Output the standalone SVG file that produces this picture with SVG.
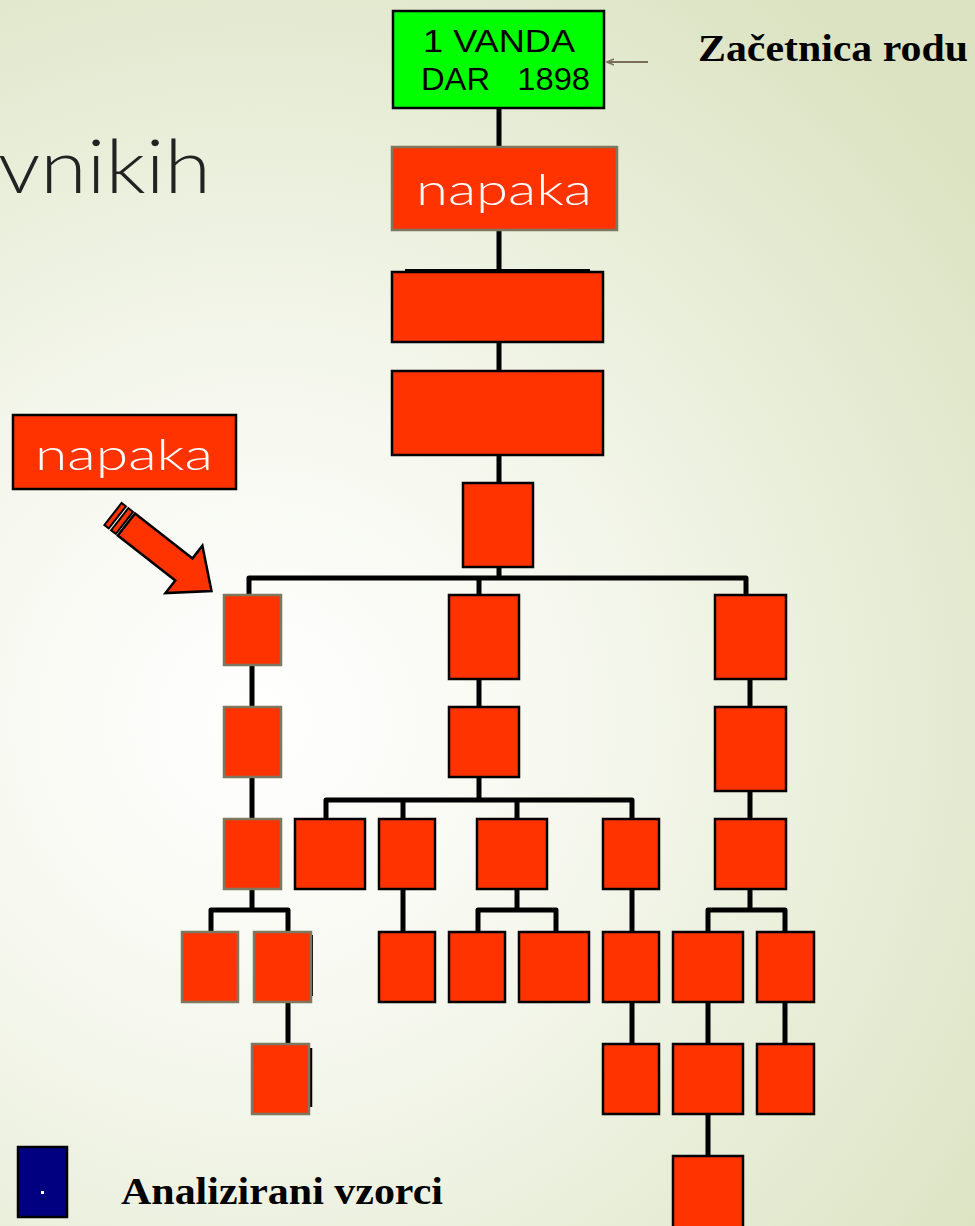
<svg xmlns="http://www.w3.org/2000/svg" width="975" height="1226" viewBox="0 0 975 1226">
<defs>
<radialGradient id="bg" cx="260" cy="720" r="900" gradientUnits="userSpaceOnUse">
<stop offset="0" stop-color="#ffffff"/>
<stop offset="0.35" stop-color="#f6f8ef"/>
<stop offset="1" stop-color="#dbe3c2"/>
</radialGradient>
<marker id="ah" markerWidth="8" markerHeight="8" refX="7" refY="4" orient="auto" markerUnits="userSpaceOnUse">
<path d="M0,1 L7,4 L0,7" fill="none" stroke="#7a6e5a" stroke-width="1.5"/>
</marker>
<style>
.r{fill:#ff3300;stroke:#000;stroke-width:2.5}
.rg{fill:#ff3300;stroke:#7d7860;stroke-width:2.5}
.c{fill:none;stroke:#000;stroke-width:5;stroke-linejoin:round}
.nap{font-family:"Lato","Open Sans",sans-serif;font-weight:300;font-size:44px;fill:#ffffff;text-anchor:middle}
.tb{font-family:"Liberation Serif",serif;font-weight:bold;font-size:37px;fill:#000}
.ar{font-family:"Liberation Sans",sans-serif;font-size:31px;fill:#000}
</style>
</defs>
<rect x="0" y="0" width="975" height="1226" fill="url(#bg)"/>
<text x="-2" y="193" font-family="Lato,'Open Sans',sans-serif" font-weight="300" font-size="74" fill="#222222" textLength="213" lengthAdjust="spacingAndGlyphs">vnikih</text>

<g id="connectors">
<path class="c" d="M499,108 V147 M499,230 V272 M499,342 V371 M499,455 V483 M499,567 V578"/>
<path class="c" d="M249,595 V578 H746 V595 M479,578 V595"/>
<path class="c" d="M252,665 V707 M252,777 V819 M252,889 V910"/>
<path class="c" d="M211,932 V910 H288 V932 M288,1002 V1044"/>
<path class="c" d="M479,679 V707 M479,777 V800"/>
<path class="c" d="M326,819 V800 H632 V819 M403,800 V819 M517,800 V819"/>
<path class="c" d="M403,889 V932 M517,889 V910 M478,932 V910 H556 V932 M632,889 V932 M632,1002 V1044"/>
<path class="c" d="M750,679 V707 M750,791 V819 M750,889 V910 M708,932 V910 H785 V932 M708,1002 V1044 M708,1114 V1156 M785,1002 V1044"/>
<line x1="648" y1="62" x2="607" y2="62" stroke="#7a6e5a" stroke-width="2" marker-end="url(#ah)"/>
</g>

<g id="root">
<rect x="393" y="11" width="211" height="97" fill="#00ff00" stroke="#000" stroke-width="2.5"/>
<text class="ar" x="423" y="52" textLength="152" lengthAdjust="spacingAndGlyphs">1 VANDA</text>
<text class="ar" x="421" y="90" textLength="169" lengthAdjust="spacingAndGlyphs" xml:space="preserve">DAR   1898</text>
</g>
<g id="label-zacetnica"><text class="tb" x="698" y="61" textLength="270" lengthAdjust="spacingAndGlyphs">Začetnica rodu</text></g>

<g id="n1"><rect class="rg" x="392" y="147" width="225" height="83"/><text class="nap" x="504" y="205" textLength="176" lengthAdjust="spacingAndGlyphs">napaka</text></g>
<g id="n2"><line x1="405" y1="270" x2="590" y2="270" stroke="#000" stroke-width="2"/><rect class="r" x="392" y="272" width="211" height="70"/></g>
<g id="n3"><rect class="r" x="392" y="371" width="211" height="84"/></g>
<g id="n4"><rect class="r" x="463" y="483" width="70" height="84"/></g>

<g id="L1"><rect class="rg" x="224" y="595" width="57" height="70"/></g>
<g id="L2"><rect class="rg" x="224" y="707" width="57" height="70"/></g>
<g id="L3"><rect class="rg" x="224" y="819" width="57" height="70"/></g>
<g id="L4a"><rect class="rg" x="182" y="932" width="56" height="70"/></g>
<g id="L4b"><line x1="312" y1="935" x2="312" y2="996" stroke="#000" stroke-width="2"/><rect class="rg" x="254" y="932" width="57" height="70"/></g>
<g id="L5"><line x1="311" y1="1048" x2="311" y2="1107" stroke="#000" stroke-width="2.5"/><rect class="rg" x="252" y="1044" width="57" height="70"/></g>

<g id="M1"><rect class="r" x="449" y="595" width="70" height="84"/></g>
<g id="M2"><rect class="r" x="449" y="707" width="70" height="70"/></g>
<g id="M3a"><rect class="r" x="295" y="819" width="70" height="70"/></g>
<g id="M3b"><rect class="r" x="379" y="819" width="56" height="70"/></g>
<g id="M3c"><rect class="r" x="477" y="819" width="70" height="70"/></g>
<g id="M3d"><rect class="r" x="603" y="819" width="56" height="70"/></g>
<g id="M4b"><rect class="r" x="379" y="932" width="56" height="70"/></g>
<g id="M4c1"><rect class="r" x="449" y="932" width="56" height="70"/></g>
<g id="M4c2"><rect class="r" x="519" y="932" width="70" height="70"/></g>
<g id="M4d"><rect class="r" x="603" y="932" width="56" height="70"/></g>
<g id="M5d"><rect class="r" x="603" y="1044" width="56" height="70"/></g>

<g id="R1"><rect class="r" x="715" y="595" width="71" height="84"/></g>
<g id="R2"><rect class="r" x="715" y="707" width="71" height="84"/></g>
<g id="R3"><rect class="r" x="715" y="819" width="71" height="70"/></g>
<g id="R4a"><rect class="r" x="673" y="932" width="70" height="70"/></g>
<g id="R4b"><rect class="r" x="757" y="932" width="57" height="70"/></g>
<g id="R5a"><rect class="r" x="673" y="1044" width="70" height="70"/></g>
<g id="R5b"><rect class="r" x="757" y="1044" width="57" height="70"/></g>
<g id="R6a"><rect class="r" x="673" y="1156" width="70" height="80"/></g>

<g id="napaka-label"><rect class="r" x="13" y="415" width="223" height="74"/><text class="nap" x="124" y="470" textLength="178" lengthAdjust="spacingAndGlyphs">napaka</text></g>

<g id="pointer" transform="translate(113,514) rotate(38)">
<path d="M17,-14 H90 V-30 L125,0 L90,30 V14 H17 Z" fill="#ff3300" stroke="#000" stroke-width="2.5" stroke-linejoin="miter"/>
<rect x="8.5" y="-14" width="6" height="28" fill="#ff3300" stroke="#000" stroke-width="2"/>
<rect x="0" y="-14" width="5.5" height="28" fill="#ff3300" stroke="#000" stroke-width="2"/>
</g>

<g id="legend">
<rect x="18" y="1147" width="49" height="70" fill="#000080" stroke="#000" stroke-width="2.5"/>
<rect x="41" y="1191" width="3" height="3" fill="#ffffff"/>
<text class="tb" x="121" y="1204" textLength="322" lengthAdjust="spacingAndGlyphs">Analizirani vzorci</text>
</g>
</svg>
